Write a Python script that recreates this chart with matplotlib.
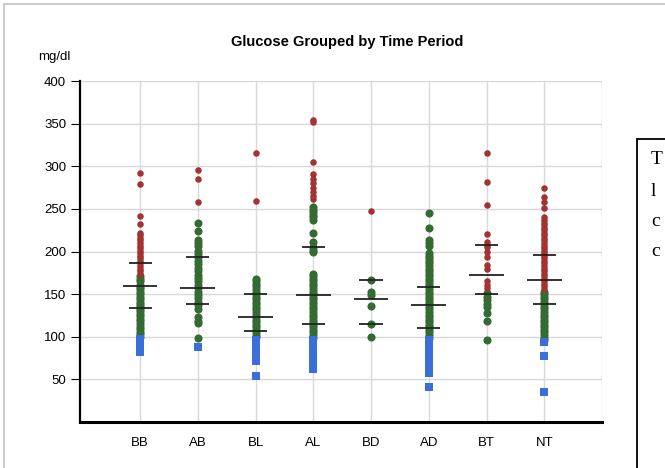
import matplotlib
matplotlib.use("Agg")
import matplotlib.pyplot as plt
from matplotlib.lines import Line2D
from matplotlib.patches import Rectangle

plt.rcParams['font.family'] = ['Liberation Sans', 'DejaVu Sans']

periods = ["BB", "AB", "BL", "AL", "BD", "AD", "BT", "NT"]

# readings above target (red)
high = [
    [292, 279, 242, 232, 222, 219, 216, 213, 210, 207, 204, 201, 198, 195, 192, 189, 186, 183, 180, 177, 174],
    [296, 285, 258],
    [316, 259],
    [354, 352, 305, 291, 285, 280, 275, 270, 265, 261],
    [247],
    [],
    [315, 282, 255, 221, 211, 208, 205, 200, 194, 184, 180, 165, 161, 157],
    [275, 264, 258, 251, 240, 237, 234, 231, 228, 225, 222, 219, 216, 213, 210, 207, 204, 201,
     198, 195, 192, 189, 186, 183, 180, 177, 174, 171, 168, 165, 162, 159, 156],
]
# readings in target range (green)
in_range = [
    [171, 168, 165, 161, 158, 156, 153, 150, 147, 144, 141, 139, 136, 133, 130, 127, 124, 121, 118, 115, 112, 109, 106, 103, 100],
    [234, 224, 214, 210, 206, 201, 197, 193, 189, 185, 181, 177, 173, 169, 165, 161, 157, 153, 149, 145, 141, 137, 133, 123, 119, 116, 99],
    [168, 165, 162, 159, 156, 153, 150, 147, 144, 141, 138, 135, 132, 129, 126, 123, 120, 117, 114, 111, 108, 105, 102, 100],
    [252, 249, 246, 243, 240, 237, 222, 211, 205, 202, 199, 174, 171, 168, 165, 162, 159, 156, 153, 150, 147, 144, 141,
     138, 135, 132, 129, 126, 123, 120, 117, 114, 111, 108, 105, 102, 99],
    [167, 152, 149, 136, 115, 100],
    [245, 228, 213, 210, 207, 198, 195, 192, 189, 186, 183, 180, 177, 174, 171, 168, 165, 162, 159, 156, 153, 150, 147,
     144, 141, 138, 135, 132, 129, 126, 123, 120, 117, 114, 111, 108, 105, 102, 99],
    [151, 147, 143, 139, 135, 128, 118, 96],
    [153, 150, 147, 144, 141, 138, 135, 132, 129, 126, 123, 120, 117, 114, 111, 108, 105, 102, 99, 96],
]
# readings below target (blue)
low = [
    [97, 94, 91, 88, 82],
    [88],
    [96, 93, 90, 87, 84, 81, 78, 75, 72, 54],
    [96, 93, 90, 87, 84, 81, 78, 75, 72, 69, 62],
    [],
    [96, 93, 90, 87, 84, 81, 78, 75, 72, 69, 66, 57, 41],
    [],
    [94, 77, 35],
]

upper = [186, 194, 150, 205, 166, 158, 208, 196]
mean = [160, 157, 123, 148.5, 144.5, 137.5, 172, 166]
lower = [134, 139, 107, 114.5, 114.5, 110, 150, 138]

W, H = 665, 468
fig = plt.figure(figsize=(W / 100, H / 100), dpi=100)
ax = fig.add_axes([80 / W, 46 / H, 522 / W, 341 / H])

grid_c = "#d8d8d8"
for yv in range(50, 401, 50):
    ax.axhline(yv, color=grid_c, lw=1, zorder=0)
for i in range(1, 10):
    ax.axvline(i, color=grid_c, lw=1, zorder=0)

for i, p in enumerate(periods):
    x = i + 1
    ax.scatter([x] * len(in_range[i]), in_range[i], s=34, marker="o", color="#336b33", lw=0, zorder=3)
    ax.scatter([x] * len(high[i]), high[i], s=22, marker="o", color="#a33333", lw=0, zorder=3)
    ax.scatter([x] * len(low[i]), low[i], s=30, marker="s", color="#3a6ed8", lw=0, zorder=3)
    ax.hlines(mean[i], x - 0.3, x + 0.3, color="#222222", lw=1.3, zorder=4)
    ax.hlines([upper[i], lower[i]], x - 0.2, x + 0.2, color="#222222", lw=1.3, zorder=4)

ax.set_xlim(-0.04, 9)
ax.set_ylim(0, 400)
ax.set_xticks(range(1, 9))
ax.set_xticklabels(periods)
ax.set_yticks(range(50, 401, 50))
ax.tick_params(axis="x", length=0, pad=11, labelsize=9.5)
ax.tick_params(axis="y", length=6.5, width=0.8, pad=3.5, labelsize=9.5)
for s in ["top", "right"]:
    ax.spines[s].set_visible(False)
ax.spines["left"].set_linewidth(1.6)
ax.spines["bottom"].set_linewidth(2.2)

fig.text(347 / W, 1 - 42 / H, "Glucose Grouped by Time Period", ha="center", va="center",
         fontsize=10.5, fontweight="bold")
fig.text(54 / W, 1 - 57 / H, "mg/dl", ha="center", va="center", fontsize=9.5)

# outer frame (light grey) and cut-off text box at right
fig.add_artist(Line2D([4 / W, 1.0], [1 - 4 / H, 1 - 4 / H], color="#cccccc", lw=1.5))
fig.add_artist(Line2D([4 / W, 4 / W], [0, 1 - 4 / H], color="#cccccc", lw=1.5))
fig.add_artist(Rectangle((637 / W, -0.1), 0.2, 1.1 - 139 / H, transform=fig.transFigure,
                         fill=False, ec="black", lw=1.3))
for yy, ch in zip([160, 191, 222, 252], ["T", "l", "c", "c"]):
    fig.text(651 / W, 1 - yy / H, ch, family="Liberation Serif", fontsize=14, va="center", ha="left")

fig.savefig("out.png", dpi=100)
